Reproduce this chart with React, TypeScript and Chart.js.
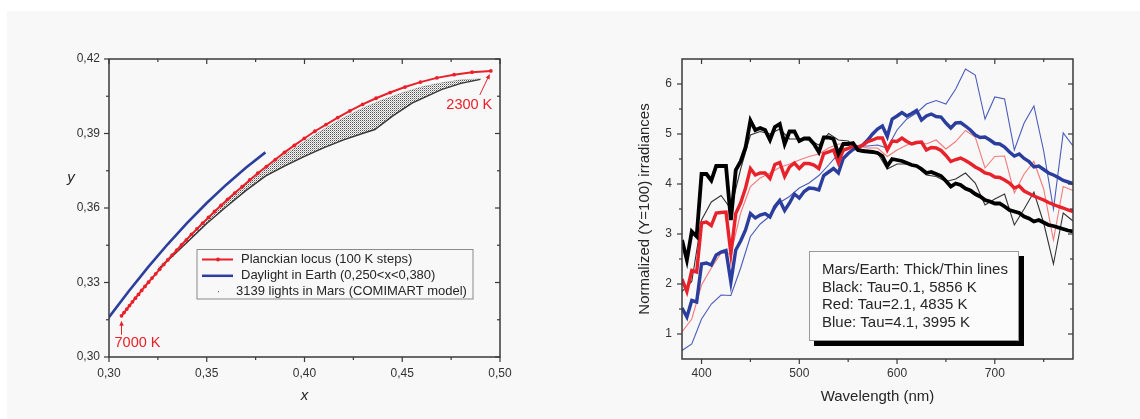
import React, { useEffect, useRef } from 'react';
import { Chart, registerables } from 'chart.js';

Chart.register(...registerables);

const FONT = '"Liberation Sans", Arial, Helvetica, sans-serif';
const PAGE_BG = '#f8f8f8';
const RED = '#e8202a';
const BLUE = '#2c3f9d';
const FRAME = '#3a3a3a';
const TEXT = '#262626';

// ---------------- Left chart: chromaticity diagram ----------------
const planckT = [
  7000, 6900, 6800, 6700, 6600, 6500, 6400, 6300, 6200, 6100,
  6000, 5900, 5800, 5700, 5600, 5500, 5400, 5300, 5200, 5100,
  5000, 4900, 4800, 4700, 4600, 4500, 4400, 4300, 4200, 4100,
  4000, 3900, 3800, 3700, 3600, 3500, 3400, 3300, 3200, 3100,
  3000, 2900, 2800, 2700, 2600, 2500, 2400, 2300,
];
const planckX = [
  0.3064, 0.3077, 0.3091, 0.3105, 0.3120, 0.3135, 0.3151, 0.3167, 0.3184, 0.3202,
  0.3220, 0.3239, 0.3259, 0.3280, 0.3301, 0.3323, 0.3347, 0.3371, 0.3396, 0.3422,
  0.3450, 0.3479, 0.3509, 0.3540, 0.3573, 0.3607, 0.3643, 0.3681, 0.3720, 0.3761,
  0.3805, 0.3851, 0.3898, 0.3948, 0.3999, 0.4053, 0.4110, 0.4170, 0.4232, 0.4297,
  0.4366, 0.4438, 0.4514, 0.4593, 0.4677, 0.4765, 0.4857, 0.4953,
];
const planckY = [
  0.3166, 0.3179, 0.3193, 0.3207, 0.3222, 0.3237, 0.3252, 0.3268, 0.3284, 0.3301,
  0.3318, 0.3335, 0.3353, 0.3372, 0.3391, 0.3410, 0.3430, 0.3451, 0.3472, 0.3494,
  0.3516, 0.3539, 0.3562, 0.3586, 0.3610, 0.3635, 0.3660, 0.3686, 0.3713, 0.3740,
  0.3767, 0.3795, 0.3824, 0.3852, 0.3880, 0.3909, 0.3936, 0.3964, 0.3991, 0.4017,
  0.4042, 0.4065, 0.4087, 0.4107, 0.4124, 0.4137, 0.4147, 0.4152,
];

const daylightX = [0.29, 0.30, 0.31, 0.32, 0.33, 0.34, 0.35, 0.36, 0.37, 0.38];
const daylightY = [0.3050, 0.3160, 0.3264, 0.3362, 0.3454, 0.3540, 0.3620, 0.3694, 0.3762, 0.3824];

// 3139 Mars lights: envelope of the point cloud
const marsUpperX = [0.325, 0.33, 0.34, 0.35, 0.36, 0.37, 0.38, 0.39, 0.40, 0.41, 0.42, 0.43, 0.44, 0.45, 0.46, 0.47, 0.48, 0.49];
const marsUpperY = [0.3360, 0.3398, 0.3478, 0.3556, 0.3627, 0.3697, 0.3758, 0.3815, 0.3868, 0.3918, 0.3963, 0.4003, 0.4036, 0.4064, 0.4088, 0.4104, 0.4116, 0.4120];
const marsLowerX = [0.325, 0.33, 0.34, 0.35, 0.36, 0.37, 0.38, 0.39, 0.40, 0.41, 0.42, 0.43, 0.436, 0.445, 0.455, 0.47, 0.48, 0.49];
const marsLowerY = [0.3350, 0.3388, 0.3462, 0.3538, 0.3605, 0.3670, 0.3728, 0.3770, 0.3808, 0.3843, 0.3874, 0.3901, 0.3916, 0.3970, 0.4022, 0.4077, 0.4102, 0.4118];

const leftXTicks = [0.30, 0.35, 0.40, 0.45, 0.50];
const leftXMinor = [0.325, 0.375, 0.425, 0.475];
const leftYTicks = [0.30, 0.33, 0.36, 0.39, 0.42];
const leftYMinor = [0.315, 0.345, 0.375, 0.405];
const leftLegend = [
  'Planckian locus (100 K steps)',
  'Daylight in Earth (0,250<x<0,380)',
  '3139 lights in Mars (COMIMART model)',
];
const leftXTitle = 'x';
const leftYTitle = 'y';
const lowLabel = '7000 K';
const highLabel = '2300 K';

// ---------------- Right chart: spectra ----------------
const wlThick = [
  380, 385, 390, 395, 400, 405, 410, 415, 420, 425,
  430, 435, 440, 445, 450, 455, 460, 465, 470, 475,
  480, 485, 490, 495, 500, 505, 510, 515, 520, 525,
  530, 535, 540, 545, 550, 555, 560, 565, 570, 575,
  580, 585, 590, 595, 600, 605, 610, 615, 620, 625,
  630, 635, 640, 645, 650, 655, 660, 665, 670, 675,
  680, 685, 690, 695, 700, 705, 710, 715, 720, 725,
  730, 735, 740, 745, 750, 755, 760, 765, 770, 775,
  780,
];
const marsBlack = [
  2.88, 2.48, 3.05, 2.95, 4.2, 4.2, 4.07, 4.36, 4.36, 4.36,
  3.28, 4.28, 4.45, 4.73, 5.27, 5.08, 5.12, 5.08, 4.88, 5.14,
  5.2, 4.8, 5.05, 5.05, 4.86, 4.91, 4.91, 4.8, 4.64, 4.93,
  4.93, 4.9, 4.6, 4.8, 4.8, 4.82, 4.68, 4.66, 4.65, 4.64,
  4.62, 4.56, 4.36, 4.5, 4.48, 4.46, 4.42, 4.38, 4.36, 4.3,
  4.22, 4.24, 4.2, 4.16, 4.06, 3.95, 4.01, 3.98, 3.91, 3.87,
  3.8, 3.75, 3.68, 3.65, 3.61, 3.61, 3.55, 3.48, 3.45, 3.42,
  3.35, 3.31, 3.25, 3.28, 3.23, 3.18, 3.16, 3.13, 3.1, 3.07,
  3.05,
];
const marsRed = [
  2.1, 1.85, 2.27, 2.24, 3.22, 3.24, 3.17, 3.42, 3.43, 3.44,
  2.61, 3.41, 3.62, 3.92, 4.31, 4.18, 4.22, 4.22, 4.11, 4.39,
  4.43, 4.15, 4.34, 4.42, 4.31, 4.41, 4.41, 4.38, 4.31, 4.61,
  4.64, 4.68, 4.42, 4.68, 4.71, 4.76, 4.73, 4.78, 4.85, 4.88,
  4.92, 4.92, 4.68, 4.86, 4.85, 4.92, 4.85, 4.8, 4.83, 4.84,
  4.68, 4.73, 4.72, 4.67, 4.57, 4.45, 4.49, 4.52, 4.47, 4.41,
  4.34, 4.29, 4.22, 4.2, 4.14, 4.13, 4.08, 4.02, 3.92, 3.96,
  3.86, 3.81, 3.76, 3.72, 3.68, 3.63, 3.59, 3.55, 3.52, 3.48,
  3.45,
];
const marsBlue = [
  1.52, 1.34, 1.67, 1.64, 2.4, 2.42, 2.38, 2.58, 2.64, 2.67,
  2.04, 2.68, 2.86, 3.08, 3.41, 3.32, 3.38, 3.41, 3.34, 3.55,
  3.67, 3.47, 3.62, 3.8, 3.72, 3.85, 3.92, 3.91, 3.88, 4.17,
  4.24, 4.31, 4.22, 4.51, 4.61, 4.69, 4.73, 4.78, 4.88, 5.0,
  5.1, 5.16, 4.95, 5.3, 5.36, 5.43, 5.36, 5.41, 5.47, 5.28,
  5.36, 5.4, 5.35, 5.34, 5.22, 5.12, 5.22, 5.23, 5.16, 5.08,
  4.98, 4.93, 4.94, 4.88, 4.81, 4.8, 4.74, 4.64, 4.56, 4.6,
  4.51, 4.45, 4.34, 4.36, 4.29, 4.22, 4.18, 4.13, 4.07, 4.04,
  4.01,
];

const wlThin = [
  380, 390, 400, 410, 420, 430, 440, 450, 460, 470,
  480, 490, 500, 510, 520, 530, 540, 550, 560, 570,
  580, 590, 600, 610, 620, 630, 640, 650, 660, 670,
  680, 690, 700, 710, 720, 730, 740, 750, 760, 770,
  780,
];
const earthBlack = [
  1.85, 2.05, 3.28, 3.64, 3.77, 3.5, 4.3, 4.98, 5.05, 5.0,
  5.1, 4.9, 4.9, 4.88, 4.78, 5.01, 4.88, 4.86, 4.72, 4.65,
  4.62, 4.3, 4.4, 4.4, 4.35, 4.18, 4.15, 4.05, 4.1, 4.22,
  4.02, 3.58, 3.7, 3.8, 3.18, 3.5, 3.84, 3.22, 2.4, 3.42,
  3.26,
];
const earthRed = [
  1.04, 1.3, 1.98, 2.32, 2.62, 2.6, 3.42, 3.95, 4.12, 4.22,
  4.33, 4.4, 4.48, 4.55, 4.6, 4.72, 4.8, 4.8, 4.76, 4.72,
  4.72, 4.55, 4.68, 4.78, 4.85, 4.8, 4.88, 4.7, 4.85, 5.07,
  4.94, 4.32, 4.55, 4.56, 3.82, 4.2, 4.45, 3.9, 2.88, 3.95,
  3.87,
];
const earthBlue = [
  0.67, 0.8, 1.3, 1.6, 1.78, 1.77, 2.32, 2.95, 3.2, 3.36,
  3.63, 3.75, 3.92, 4.02, 4.17, 4.38, 4.6, 4.7, 4.76, 4.76,
  4.78, 4.72, 5.08, 5.3, 5.42, 5.6, 5.67, 5.6, 5.9, 6.3,
  6.18, 5.3, 5.74, 5.7, 4.68, 5.22, 5.56, 4.66, 3.5, 5.02,
  4.76,
];

const rightXTicks = [400, 500, 600, 700];
const rightXMinor = [450, 550, 650, 750];
const rightYTicks = [1, 2, 3, 4, 5, 6];
const rightYMinor = [1.5, 2.5, 3.5, 4.5, 5.5];
const rightLegend = [
  'Mars/Earth: Thick/Thin lines',
  'Black: Tau=0.1, 5856 K',
  'Red: Tau=2.1, 4835 K',
  'Blue: Tau=4.1, 3995 K',
];

// ---------------- helpers ----------------
const zip = (xs: number[], ys: number[]) => xs.map((x, i) => ({ x, y: ys[i] }));
const fmtComma = (v: number) => Number(v).toFixed(2).replace('.', ',');

function seg(ctx: CanvasRenderingContext2D, x1: number, y1: number, x2: number, y2: number) {
  ctx.beginPath();
  ctx.moveTo(x1, y1);
  ctx.lineTo(x2, y2);
  ctx.stroke();
}

function drawArrow(ctx: CanvasRenderingContext2D, x1: number, y1: number, x2: number, y2: number, color: string) {
  const head = 5;
  const ang = Math.atan2(y2 - y1, x2 - x1);
  ctx.save();
  ctx.strokeStyle = color;
  ctx.fillStyle = color;
  ctx.lineWidth = 1;
  seg(ctx, x1, y1, x2 - Math.cos(ang) * head * 0.7, y2 - Math.sin(ang) * head * 0.7);
  const bx = x2 - head * Math.cos(ang);
  const by = y2 - head * Math.sin(ang);
  const w = head * 0.45;
  ctx.beginPath();
  ctx.moveTo(x2, y2);
  ctx.lineTo(bx + w * Math.sin(ang), by - w * Math.cos(ang));
  ctx.lineTo(bx - w * Math.sin(ang), by + w * Math.cos(ang));
  ctx.closePath();
  ctx.fill();
  ctx.restore();
}

function framePlugin(id: string, xMajor: number[], xMinor: number[], yMajor: number[], yMinor: number[]) {
  return {
    id,
    afterDatasetsDraw(chart: any) {
      const { ctx, chartArea: a } = chart;
      const xs = chart.scales.x;
      const ys = chart.scales.y;
      ctx.save();
      ctx.strokeStyle = FRAME;
      ctx.lineWidth = 1.5;
      ctx.strokeRect(a.left, a.top, a.right - a.left, a.bottom - a.top);
      ctx.lineWidth = 1.2;
      const xt = (vals: number[], len: number) =>
        vals.forEach((v) => {
          const p = xs.getPixelForValue(v);
          seg(ctx, p, a.bottom, p, a.bottom + len);
          seg(ctx, p, a.top, p, a.top + len);
        });
      const yt = (vals: number[], len: number) =>
        vals.forEach((v) => {
          const p = ys.getPixelForValue(v);
          seg(ctx, a.left - len, p, a.left, p);
          seg(ctx, a.right - len, p, a.right, p);
        });
      xt(xMajor, 5);
      xt(xMinor, 3);
      yt(yMajor, 5);
      yt(yMinor, 3);
      ctx.restore();
    },
  };
}

function axisCommon(min: number, max: number, ticks: number[], pad: number, cb: (v: number) => string) {
  return {
    type: 'linear' as const,
    min,
    max,
    grid: { display: false, drawTicks: false },
    border: { display: false },
    afterBuildTicks: (s: any) => {
      s.ticks = ticks.map((v) => ({ value: v }));
    },
    ticks: {
      autoSkip: false,
      maxRotation: 0,
      padding: pad,
      color: '#333',
      font: { family: FONT, size: 12 },
      callback: (v: any) => cb(Number(v)),
    },
  };
}

// ---------------- Left chart ----------------
function LeftChart() {
  const ref = useRef<HTMLCanvasElement>(null);
  useEffect(() => {
    const canvas = ref.current!;
    const tile = document.createElement('canvas');
    tile.width = 2;
    tile.height = 2;
    const tc = tile.getContext('2d')!;
    tc.fillStyle = 'rgba(40,40,40,0.8)';
    tc.fillRect(0, 0, 1, 1);
    tc.fillStyle = 'rgba(40,40,40,0.35)';
    tc.fillRect(1, 1, 1, 1);
    const pattern = canvas.getContext('2d')!.createPattern(tile, 'repeat');

    const legendPlugin = {
      id: 'leftLegend',
      afterDraw(chart: any) {
        const { ctx, chartArea: a } = chart;
        const xs = chart.scales.x;
        const ys = chart.scales.y;
        ctx.save();
        // upright italic y title
        ctx.font = `italic 15px ${FONT}`;
        ctx.fillStyle = TEXT;
        ctx.textAlign = 'center';
        ctx.textBaseline = 'middle';
        ctx.fillText(leftYTitle, a.left - 38, a.top + 119);

        // annotations
        const p0x = xs.getPixelForValue(planckX[0]);
        const p0y = ys.getPixelForValue(planckY[0]);
        const p1x = xs.getPixelForValue(planckX[planckX.length - 1]);
        const p1y = ys.getPixelForValue(planckY[planckY.length - 1]);
        ctx.font = `14.5px ${FONT}`;
        ctx.fillStyle = RED;
        ctx.fillText(lowLabel, p0x + 16, p0y + 27.5);
        drawArrow(ctx, p0x, p0y + 19, p0x, p0y + 5, RED);
        ctx.fillStyle = RED;
        ctx.fillText(highLabel, p1x - 21.5, p1y + 34);
        drawArrow(ctx, p1x - 11, p1y + 24, p1x - 1, p1y + 3, RED);

        // legend box
        const bx = a.left + 88;
        const by = a.top + 190.5;
        const bw = 276;
        const bh = 49.5;
        ctx.strokeStyle = '#8a8a8a';
        ctx.lineWidth = 1;
        ctx.strokeRect(bx, by, bw, bh);
        const rows = [10, 26.3, 41.7];
        ctx.strokeStyle = RED;
        ctx.lineWidth = 2;
        seg(ctx, bx + 5, by + rows[0], bx + 36, by + rows[0]);
        ctx.fillStyle = RED;
        ctx.beginPath();
        ctx.arc(bx + 21, by + rows[0], 2, 0, Math.PI * 2);
        ctx.fill();
        ctx.strokeStyle = BLUE;
        ctx.lineWidth = 2.5;
        seg(ctx, bx + 5, by + rows[1], bx + 36, by + rows[1]);
        ctx.fillStyle = '#444';
        ctx.fillRect(bx + 21, by + rows[2], 1, 1);
        ctx.font = `13px ${FONT}`;
        ctx.fillStyle = TEXT;
        ctx.textAlign = 'left';
        ctx.textBaseline = 'middle';
        ctx.fillText(leftLegend[0], bx + 44, by + rows[0]);
        ctx.fillText(leftLegend[1], bx + 44, by + rows[1]);
        ctx.fillText(leftLegend[2], bx + 39, by + rows[2]);
        ctx.restore();
      },
    };

    const chart = new Chart(canvas, {
      type: 'line',
      data: {
        datasets: [
          {
            label: leftLegend[0],
            data: zip(planckX, planckY),
            borderColor: RED,
            backgroundColor: RED,
            borderWidth: 2,
            pointRadius: 1.9,
            pointBorderWidth: 0,
            pointBackgroundColor: RED,
            fill: false,
            order: 1,
          },
          {
            label: leftLegend[1],
            data: zip(daylightX, daylightY),
            borderColor: BLUE,
            borderWidth: 2.6,
            pointRadius: 0,
            fill: false,
            order: 2,
          },
          {
            label: leftLegend[2],
            data: zip(marsUpperX, marsUpperY),
            borderColor: 'rgba(90,90,90,0.35)',
            borderWidth: 0.8,
            pointRadius: 0,
            backgroundColor: pattern as any,
            fill: '+1',
            order: 3,
          },
          {
            label: 'mars-lower',
            data: zip(marsLowerX, marsLowerY),
            borderColor: '#3a3a3a',
            borderWidth: 1.4,
            pointRadius: 0,
            fill: false,
            order: 4,
          },
        ],
      },
      options: {
        responsive: false,
        animation: false,
        events: [],
        layout: { padding: { top: 59, right: 60, bottom: 0, left: 0 } },
        plugins: { legend: { display: false }, tooltip: { enabled: false } },
        scales: {
          x: {
            ...axisCommon(0.3, 0.5, leftXTicks, 9, fmtComma),
            position: 'bottom',
            afterFit: (s: any) => {
              s.height = 62;
            },
            title: {
              display: true,
              text: leftXTitle,
              color: TEXT,
              font: { family: FONT, size: 15, style: 'italic' },
              padding: { top: 0, bottom: 14 },
            },
          },
          y: {
            ...axisCommon(0.3, 0.42, leftYTicks, 9, fmtComma),
            position: 'left',
            afterFit: (s: any) => {
              s.width = 109;
            },
          },
        },
      },
      plugins: [framePlugin('leftFrame', leftXTicks, leftXMinor, leftYTicks, leftYMinor), legendPlugin],
    } as any);
    return () => chart.destroy();
  }, []);
  return <canvas ref={ref} width={560} height={419} style={{ position: 'absolute', left: 0, top: 0 }} />;
}

// ---------------- Right chart ----------------
function RightChart() {
  const ref = useRef<HTMLCanvasElement>(null);
  useEffect(() => {
    const canvas = ref.current!;
    const legendPlugin = {
      id: 'rightLegend',
      afterDraw(chart: any) {
        const { ctx, chartArea: a } = chart;
        const bx = a.left + 127;
        const by = a.top + 192;
        const bw = 210;
        const bh = 90;
        ctx.save();
        ctx.fillStyle = '#000';
        ctx.fillRect(bx + 5, by + 5, bw, bh);
        ctx.fillStyle = '#fbfbfb';
        ctx.fillRect(bx, by, bw, bh);
        ctx.strokeStyle = '#9a9a9a';
        ctx.lineWidth = 1;
        ctx.strokeRect(bx + 0.5, by + 0.5, bw - 1, bh - 1);
        ctx.font = `15px ${FONT}`;
        ctx.fillStyle = TEXT;
        ctx.textAlign = 'left';
        ctx.textBaseline = 'middle';
        rightLegend.forEach((t, i) => ctx.fillText(t, bx + 13, by + 19 + i * 17.6));
        ctx.restore();
      },
    };

    const thick = (data: number[], color: string, w: number) => ({
      data: zip(wlThick, data),
      borderColor: color,
      borderWidth: w,
      pointRadius: 0,
      fill: false,
      order: 1,
    });
    const thin = (data: number[], color: string) => ({
      data: zip(wlThin, data),
      borderColor: color,
      borderWidth: 1.1,
      pointRadius: 0,
      fill: false,
      order: 2,
    });

    const chart = new Chart(canvas, {
      type: 'line',
      data: {
        datasets: [
          thick(marsBlack, '#000000', 3.8),
          thick(marsRed, '#e8222b', 3.4),
          thick(marsBlue, '#2b3e9e', 3.4),
          thin(earthBlack, '#333333'),
          thin(earthRed, '#f27a7a'),
          thin(earthBlue, '#4a5cba'),
        ],
      },
      options: {
        responsive: false,
        animation: false,
        events: [],
        layout: { padding: { top: 59, right: 67, bottom: 0, left: 0 } },
        plugins: { legend: { display: false }, tooltip: { enabled: false } },
        scales: {
          x: {
            ...axisCommon(380, 780, rightXTicks, 7, (v) => String(Math.round(v))),
            position: 'bottom',
            afterFit: (s: any) => {
              s.height = 60;
            },
            title: {
              display: true,
              text: 'Wavelength (nm)',
              color: TEXT,
              font: { family: FONT, size: 15 },
              padding: { top: 0, bottom: 13 },
            },
          },
          y: {
            ...axisCommon(0.5, 6.5, rightYTicks, 10, (v) => String(Math.round(v))),
            position: 'left',
            afterFit: (s: any) => {
              s.width = 122;
            },
            title: {
              display: true,
              text: 'Normalized (Y=100) irradiances',
              color: TEXT,
              font: { family: FONT, size: 15 },
              padding: { top: 76, bottom: 0 },
            },
          },
        },
      },
      plugins: [framePlugin('rightFrame', rightXTicks, rightXMinor, rightYTicks, rightYMinor), legendPlugin],
    } as any);
    return () => chart.destroy();
  }, []);
  return <canvas ref={ref} width={580} height={419} style={{ position: 'absolute', left: 560, top: 0 }} />;
}

export default function App() {
  return (
    <div style={{ position: 'fixed', left: 0, top: 0, width: 1140, height: 419, background: '#ffffff', overflow: 'hidden' }}>
      <div style={{ position: 'absolute', left: 7, top: 11, right: 0, bottom: 0, background: PAGE_BG }} />
      <LeftChart />
      <RightChart />
    </div>
  );
}
